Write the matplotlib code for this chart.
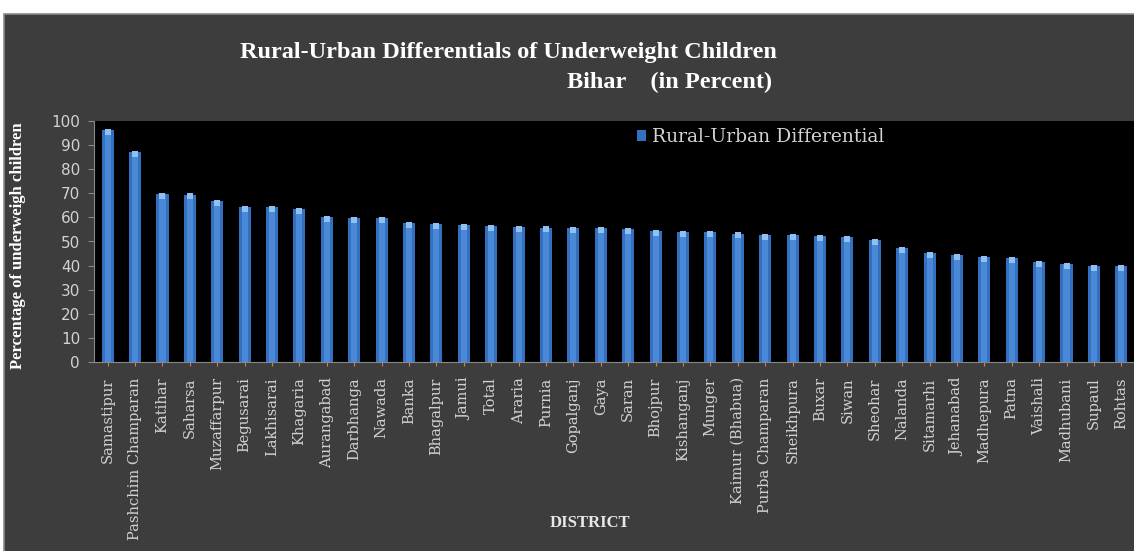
import numpy as np
import matplotlib
matplotlib.use("Agg")
import matplotlib.pyplot as plt
from matplotlib.patches import Rectangle

# Districts and rural-urban differential of underweight children (%)
districts = ["Samastipur", "Pashchim Champaran", "Katihar", "Saharsa", "Muzaffarpur",
             "Begusarai", "Lakhisarai", "Khagaria", "Aurangabad", "Darbhanga", "Nawada",
             "Banka", "Bhagalpur", "Jamui", "Total", "Araria", "Purnia", "Gopalganj",
             "Gaya", "Saran", "Bhojpur", "Kishanganj", "Munger", "Kaimur (Bhabua)",
             "Purba Champaran", "Sheikhpura", "Buxar", "Siwan", "Sheohar", "Nalanda",
             "Sitamarhi", "Jehanabad", "Madhepura", "Patna", "Vaishali", "Madhubani",
             "Supaul", "Rohtas"]
differential = [96.2, 87.0, 69.6, 69.5, 66.8, 64.4, 64.3, 63.4, 60.3, 59.8, 59.6,
                57.8, 57.4, 56.8, 56.6, 56.1, 55.8, 55.7, 55.6, 55.1, 54.4, 53.8,
                53.8, 53.3, 52.7, 52.6, 52.1, 52.0, 50.6, 47.1, 45.4, 44.4, 43.7,
                43.3, 41.6, 40.5, 40.0, 39.9]
yticks = list(range(0, 101, 10))

panel = "#3d3d3d"
txt = "#d2d2d2"
serif = ["Liberation Serif", "DejaVu Serif"]
wide_serif = ["DejaVu Serif"]

fig = plt.figure(figsize=(11.34, 5.51), dpi=100)
fig.patch.set_facecolor(panel)
# thin white strips at top and left, grey border line of the panel
fig.patches.append(Rectangle((0, 1 - 14 / 551), 1, 14 / 551, transform=fig.transFigure,
                             facecolor="white", edgecolor="none", zorder=-5))
fig.patches.append(Rectangle((0, 0), 4 / 1134, 1, transform=fig.transFigure,
                             facecolor="white", edgecolor="none", zorder=-5))
fig.patches.append(Rectangle((4 / 1134, -0.01), 1, 1.01 - 14 / 551, transform=fig.transFigure,
                             facecolor="none", edgecolor="#8a8a8a", lw=1.2, zorder=-4))

ax = fig.add_axes([94 / 1134, 189 / 551, 1041 / 1134, 241 / 551])
ax.set_facecolor("black")

x = np.arange(len(districts))
ax.bar(x, differential, width=0.44, color="#3470c0", zorder=2,
       label="Rural-Urban Differential")
# lighter centre strip and cap to mimic the shaded bars
ax.bar(x, differential, width=0.22, color="#4a88d8", zorder=3)
ax.scatter(x, np.array(differential) - 0.8, marker="s", s=22, color="#8fc0f0",
           zorder=4, linewidths=0)

ax.set_xlim(-0.5, len(districts) - 0.5)
ax.set_ylim(0, 100)
ax.set_yticks(yticks)
ax.set_yticklabels([str(v) for v in yticks], color=txt, fontsize=11)
ax.set_xticks(x)
ax.set_xticklabels(districts, rotation=90, va="top", ha="center",
                   fontsize=10.5, color=txt, family=wide_serif)
ax.tick_params(axis="y", length=4, color="#888888", pad=6)
ax.tick_params(axis="x", length=3, color="#c08080", pad=8)
for s in ["top", "right"]:
    ax.spines[s].set_visible(False)
ax.spines["left"].set_color("#888888")
ax.spines["bottom"].set_color("#888888")

leg = ax.legend(loc="upper left", bbox_to_anchor=(0.505, 1.04), frameon=False,
                handlelength=0.5, handleheight=0.5, handletextpad=0.3,
                prop={"family": wide_serif, "size": 13.5})
for t in leg.get_texts():
    t.set_color(txt)

fig.text(0.448, 0.905, "Rural-Urban Differentials of Underweight Children",
         ha="center", va="center", color="white", fontsize=17.5,
         fontweight="bold", family=serif)
fig.text(0.681, 0.85, "Bihar    (in Percent)", ha="right", va="center",
         color="white", fontsize=17.5, fontweight="bold", family=serif)
fig.text(0.016, 0.555, "Percentage of underweigh children", rotation=90,
         ha="center", va="center", color="white", fontsize=12,
         fontweight="bold", family=serif)
fig.text(0.52, 0.05, "DISTRICT", ha="center", va="center", color="#e8e8e8",
         fontsize=12, fontweight="bold", family=serif)

fig.savefig("out.png", dpi=100, facecolor=fig.get_facecolor())
